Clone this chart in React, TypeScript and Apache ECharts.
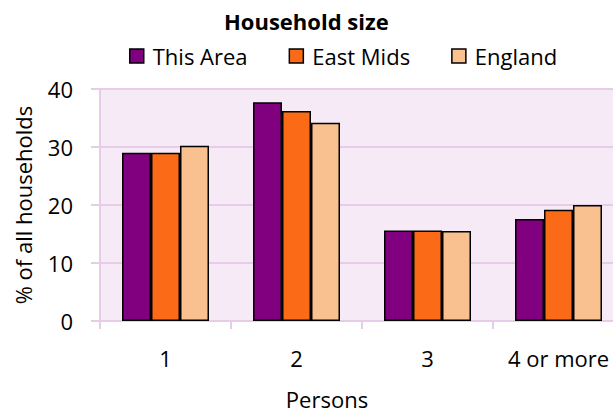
import React, { useEffect, useRef } from "react";
import * as echarts from "echarts";

const categories = ["1", "2", "3", "4 or more"];
const thisArea = [29.0, 37.7, 15.6, 17.6];
const eastMids = [29.0, 36.2, 15.6, 19.2];
const england = [30.2, 34.2, 15.5, 20.0];
const yTicks = { min: 0, max: 40, interval: 10 };

const FONT = "Open Sans";
const GRID = "#E6CCE6";
const FS = 22;

export default function App() {
  const ref = useRef<HTMLDivElement>(null);
  useEffect(() => {
    if (!ref.current) return;
    const chart = echarts.init(ref.current, null, { renderer: "svg" });
    const barStyle = (color: string) => ({
      color,
      borderColor: "#000",
      borderWidth: 1.5,
    });
    chart.setOption({
      animation: false,
      textStyle: { fontFamily: FONT, color: "#000" },
      title: {
        text: "Household size",
        left: 224,
        top: 10,
        padding: 0,
        textStyle: { fontFamily: FONT, fontSize: FS, fontWeight: "bold", color: "#000" },
      },
      legend: {
        left: 129,
        top: 45,
        padding: 0,
        itemWidth: 14,
        itemHeight: 14,
        itemGap: 41,
        icon: "rect",
        itemStyle: { borderColor: "#000", borderWidth: 1.5 },
        textStyle: { fontFamily: FONT, fontSize: FS, color: "#000", padding: [0, 0, 0, 4] },
        data: ["This Area", "East Mids", "England"],
      },
      grid: {
        left: 100,
        top: 89,
        right: 16,
        bottom: 88,
        show: true,
        backgroundColor: "#F6EAF6",
        borderWidth: 0,
        containLabel: false,
      },
      xAxis: {
        type: "category",
        data: categories,
        name: "Persons",
        nameLocation: "middle",
        nameGap: 67,
        nameTextStyle: { fontFamily: FONT, fontSize: FS, color: "#000", padding: [0, 70, 0, 0] },
        axisLine: { show: true, lineStyle: { color: GRID, width: 2 } },
        axisTick: { show: true, length: 8, lineStyle: { color: GRID, width: 2 } },
        axisLabel: { fontFamily: FONT, fontSize: FS, color: "#000", margin: 26, interval: 0, hideOverlap: false },
      },
      yAxis: {
        type: "value",
        min: yTicks.min,
        max: yTicks.max,
        interval: yTicks.interval,
        name: "% of all households",
        nameLocation: "middle",
        nameGap: 66,
        nameTextStyle: { fontFamily: FONT, fontSize: FS, color: "#000" },
        axisLine: { show: true, lineStyle: { color: GRID, width: 2 } },
        axisTick: { show: true, length: 9, lineStyle: { color: GRID, width: 2 } },
        splitLine: { show: true, lineStyle: { color: GRID, width: 2 } },
        axisLabel: { fontFamily: FONT, fontSize: FS, color: "#000", margin: 27 },
      },
      series: [
        { name: "This Area", type: "bar", data: thisArea, barWidth: 29, barGap: "0%", itemStyle: barStyle("#800080") },
        { name: "East Mids", type: "bar", data: eastMids, barWidth: 29, barGap: "0%", itemStyle: barStyle("#FB6A17") },
        { name: "England", type: "bar", data: england, barWidth: 29, barGap: "0%", itemStyle: barStyle("#F9C090") },
      ],
    });
    return () => chart.dispose();
  }, []);
  return (
    <div style={{ position: "fixed", left: 0, top: 0, width: 613, height: 415, overflow: "hidden", background: "#fff" }}>
      <div ref={ref} style={{ width: 640, height: 415 }} />
    </div>
  );
}
